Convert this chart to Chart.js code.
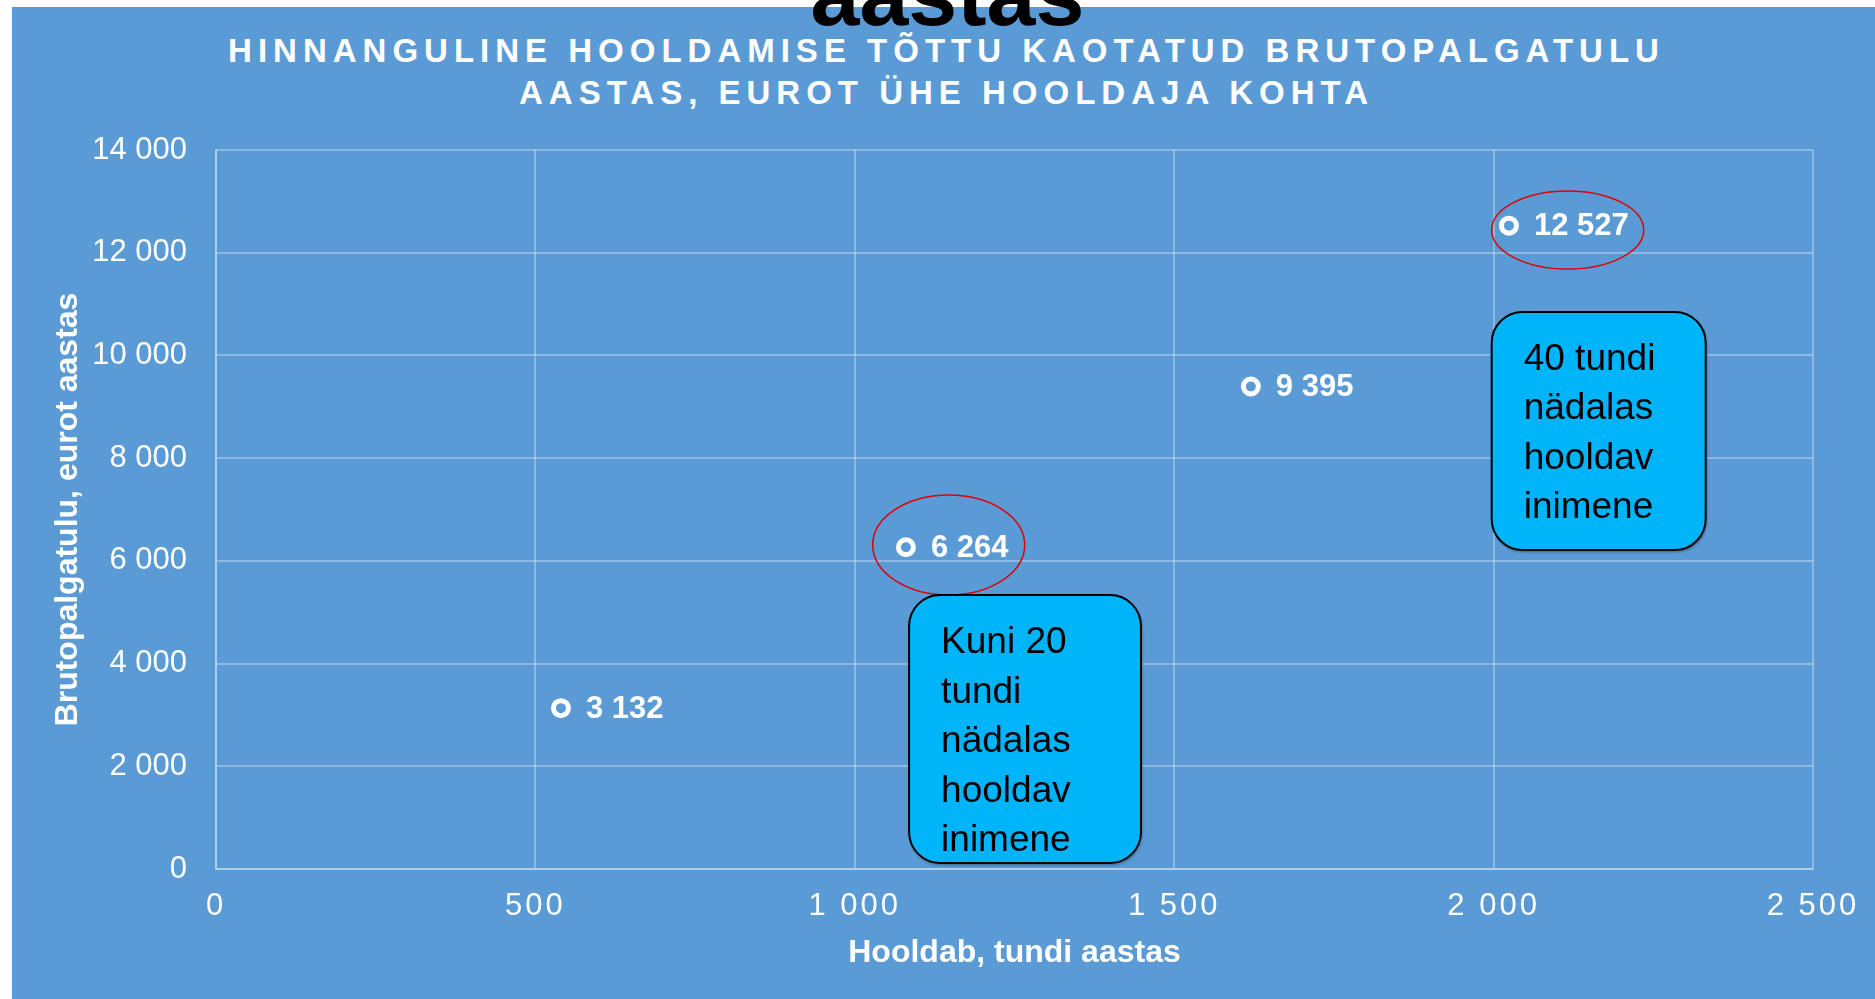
<!DOCTYPE html>
<html>
<head>
<meta charset="utf-8">
<script src="https://cdn.jsdelivr.net/npm/chart.js@4/dist/chart.umd.min.js"></script>
<style>
html,body{margin:0;padding:0;background:#fff;width:1875px;height:999px;overflow:hidden;font-family:"Liberation Sans",Arial,sans-serif;}
#bg{position:absolute;left:12px;top:7px;width:1863px;height:992px;background:#5B9BD5;}
#c{position:absolute;left:0;top:0;}
#title{position:absolute;left:12px;top:30px;width:1863px;padding-left:6px;box-sizing:border-box;text-align:center;color:#fff;font-weight:bold;font-size:33px;line-height:42px;letter-spacing:6px;white-space:nowrap;}
#big{position:absolute;left:0;top:-49px;width:1895px;text-align:center;font-size:88px;font-weight:bold;line-height:88px;color:#000;z-index:5;}
</style>
</head>
<body>
<div id="bg"></div>
<div id="big">aastas</div>
<div id="title">HINNANGULINE HOOLDAMISE TÕTTU KAOTATUD BRUTOPALGATULU<br>AASTAS, EUROT ÜHE HOOLDAJA KOHTA</div>
<canvas id="c" width="1875" height="999"></canvas>
<script>
// ---- data ----
const hours = [540, 1080, 1620, 2024];
const earnings = [3132, 6264, 9395, 12527];
const xTickValues = [0, 500, 1000, 1500, 2000, 2500];
const yTickValues = [0, 2000, 4000, 6000, 8000, 10000, 12000, 14000];
const xTitle = 'Hooldab, tundi aastas';
const yTitle = 'Brutopalgatulu, eurot aastas';
const boxTexts = [
  ['Kuni 20', 'tundi', 'nädalas', 'hooldav', 'inimene'],
  ['40 tundi', 'nädalas', 'hooldav', 'inimene']
];
// callouts in data units
const boxX0 = [1085, 1997], boxX1 = [1448, 2332];
const boxY0 = [5335, 10846], boxY1 = [117, 6211];
const ellCx = [1147, 2116], ellCy = [6309, 12442];
const ellRx = [119, 119], ellRy = [973, 759];

const FONT = '"Liberation Sans", Arial, sans-serif';
const fmt = v => String(v).replace(/\B(?=(\d{3})+(?!\d))/g, ' ');
const gridColor = 'rgba(255,255,255,0.3)';

const overlay = {
  id: 'overlay',
  beforeDraw(chart) {
    const sx = chart.scales.x;
    if (!sx._lsPatched) {
      const orig = sx.drawLabels.bind(sx);
      sx.drawLabels = function (a) {
        const c = this.ctx; c.save();
        c.letterSpacing = '3px';
        orig(a); c.restore();
      };
      sx._lsPatched = true;
    }
  },
  afterDatasetsDraw(chart) {
    const ctx = chart.ctx, sx = chart.scales.x, sy = chart.scales.y;
    // data labels
    const meta = chart.getDatasetMeta(0);
    ctx.save();
    ctx.fillStyle = '#fff';
    ctx.font = 'bold 31px ' + FONT;
    ctx.textAlign = 'left';
    ctx.textBaseline = 'middle';
    meta.data.forEach((el, i) => ctx.fillText(fmt(earnings[i]), el.x + 25, el.y + 1));
    ctx.restore();
    // red ellipses
    ctx.save();
    ctx.strokeStyle = '#E00000';
    ctx.lineWidth = 1.5;
    for (let i = 0; i < ellCx.length; i++) {
      const cx = sx.getPixelForValue(ellCx[i]), cy = sy.getPixelForValue(ellCy[i]);
      const rx = sx.getPixelForValue(ellCx[i] + ellRx[i]) - cx;
      const ry = cy - sy.getPixelForValue(ellCy[i] + ellRy[i]);
      ctx.beginPath();
      ctx.ellipse(cx, cy, rx, ry, 0, 0, Math.PI * 2);
      ctx.stroke();
    }
    ctx.restore();
    // boxes
    for (let i = 0; i < boxTexts.length; i++) {
      const x0 = sx.getPixelForValue(boxX0[i]), x1 = sx.getPixelForValue(boxX1[i]);
      const y0 = sy.getPixelForValue(boxY0[i]), y1 = sy.getPixelForValue(boxY1[i]);
      ctx.save();
      ctx.shadowColor = 'rgba(0,0,0,0.35)';
      ctx.shadowOffsetX = 1; ctx.shadowOffsetY = 2; ctx.shadowBlur = 3;
      ctx.beginPath();
      ctx.roundRect(x0, y0, x1 - x0, y1 - y0, 31);
      ctx.fillStyle = '#00B4FA';
      ctx.fill();
      ctx.shadowColor = 'transparent';
      ctx.strokeStyle = '#000';
      ctx.lineWidth = 2;
      ctx.stroke();
      ctx.fillStyle = '#000';
      ctx.font = '37px ' + FONT;
      ctx.textAlign = 'left';
      ctx.textBaseline = 'alphabetic';
      boxTexts[i].forEach((t, k) => ctx.fillText(t, x0 + 32, y0 + 58 + k * 49.5));
      ctx.restore();
    }
  }
};

new Chart(document.getElementById('c'), {
  type: 'scatter',
  data: {
    datasets: [{
      data: hours.map((h, i) => ({ x: h, y: earnings[i] })),
      pointRadius: 7.5,
      pointHoverRadius: 7.5,
      pointBorderWidth: 5,
      pointBorderColor: '#fff',
      pointBackgroundColor: 'rgba(0,0,0,0)',
      showLine: false
    }]
  },
  options: {
    responsive: false,
    animation: false,
    events: [],
    layout: { padding: { left: 12, top: 150, right: 62, bottom: 0 } },
    plugins: { legend: { display: false }, tooltip: { enabled: false }, title: { display: false } },
    scales: {
      x: {
        type: 'linear', min: 0, max: 2500,
        afterBuildTicks: s => { s.ticks = xTickValues.map(v => ({ value: v })); },
        afterFit: s => { s.height = 130; },
        ticks: { padding: 19, color: '#fff', font: { size: 31, family: FONT }, callback: v => fmt(v), maxRotation: 0, autoSkip: false },
        grid: { color: gridColor, lineWidth: 2, drawTicks: false },
        border: { color: gridColor, width: 2 },
        title: { display: true, text: xTitle, color: '#fff', font: { size: 32, weight: 'bold', family: FONT }, padding: { top: 0, bottom: 27 } }
      },
      y: {
        type: 'linear', min: 0, max: 14000,
        afterBuildTicks: s => { s.ticks = yTickValues.map(v => ({ value: v })); },
        afterFit: s => { s.width = 204; },
        ticks: { padding: 29, color: '#fff', font: { size: 31, family: FONT }, callback: v => fmt(v), autoSkip: false },
        grid: { color: gridColor, lineWidth: 2, drawTicks: false },
        border: { color: gridColor, width: 2 },
        title: { display: true, text: yTitle, color: '#fff', font: { size: 32, weight: 'bold', family: FONT }, padding: { top: 37, bottom: 0 } }
      }
    }
  },
  plugins: [overlay]
});
</script>
</body>
</html>
